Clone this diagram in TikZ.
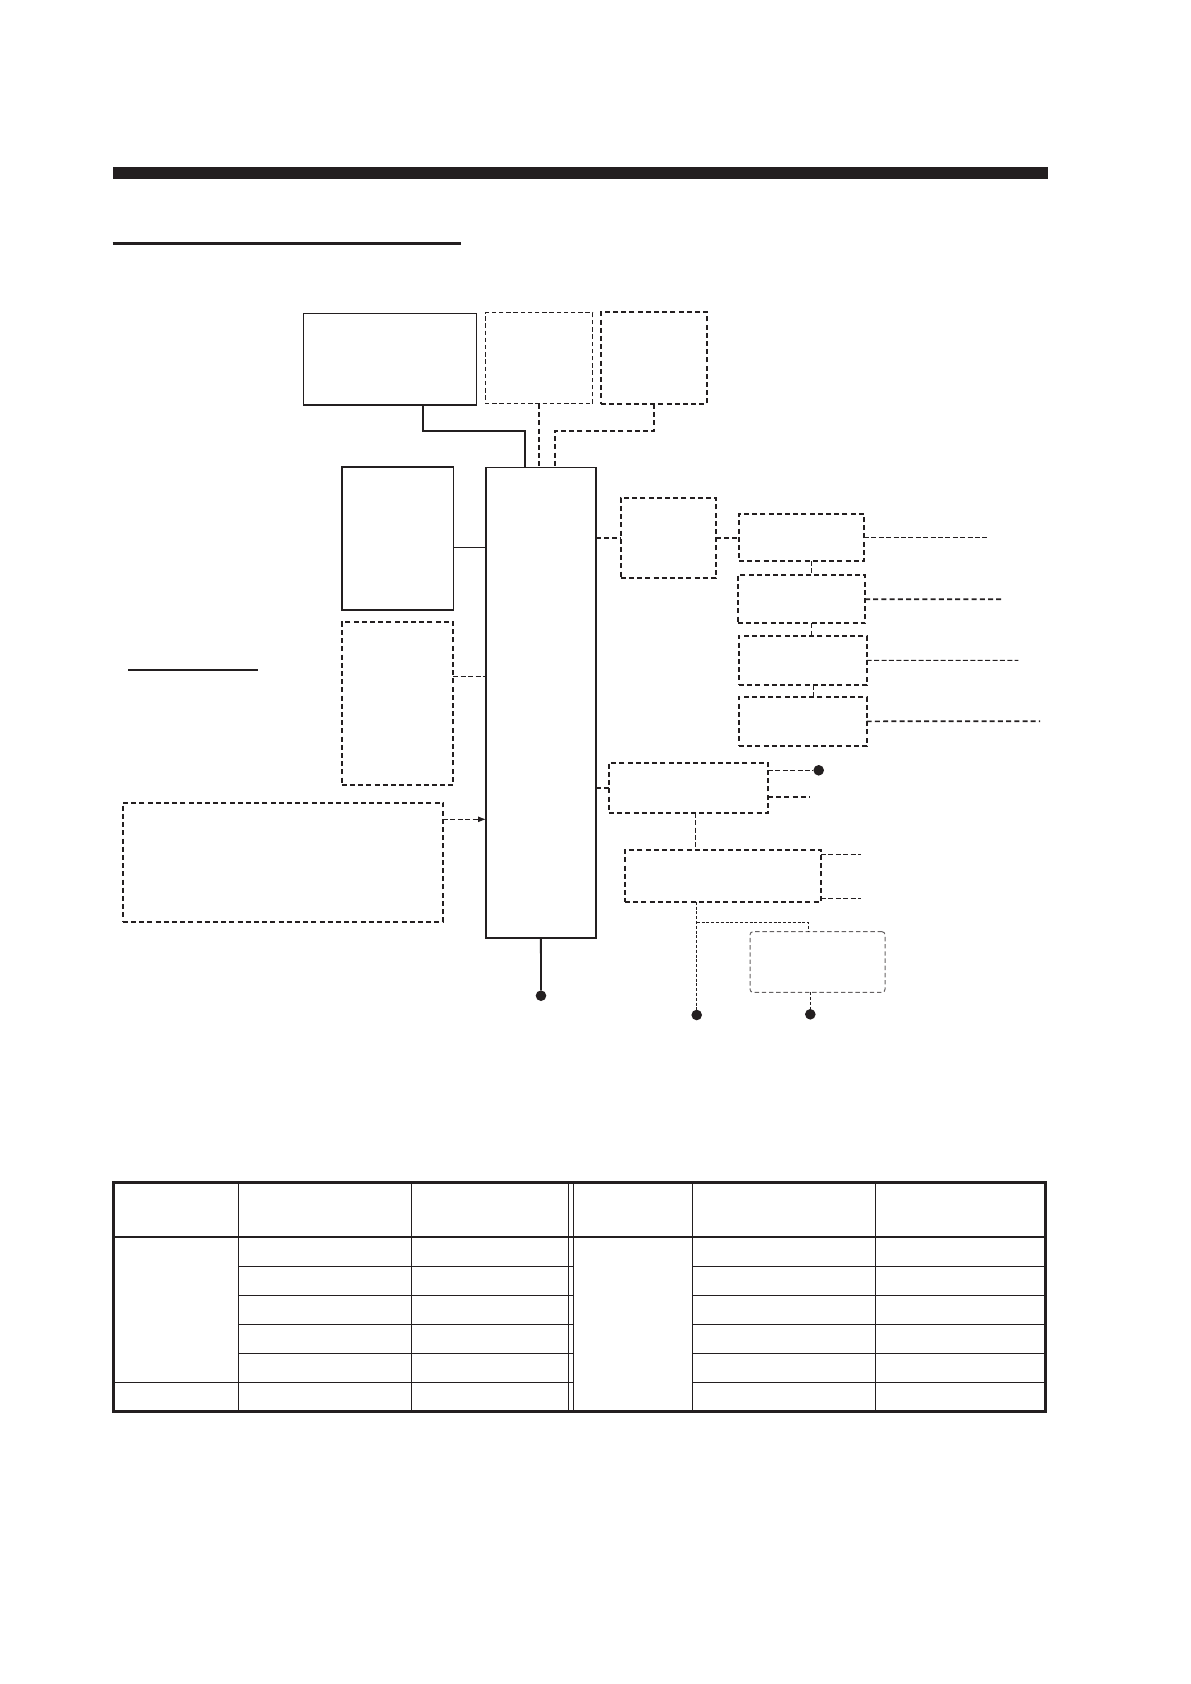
\documentclass[tikz,border=0pt]{standalone}
\usetikzlibrary{arrows.meta, positioning, fit}
\definecolor{ink}{RGB}{35,31,32}

\begin{document}
\begin{tikzpicture}[
        x=0.5pt, y=-0.5pt, >={Latex[length=4pt,width=3pt]},
        every node/.style={inner sep=0pt, outer sep=0pt},
        box/.style={draw=ink, line width=0.75pt},
        dbox/.style={draw=ink, line width=0.85pt, dash pattern=on 2.5pt off 1.6pt},
        lbox/.style={draw=ink, line width=0.5pt, dash pattern=on 2.2pt off 1.4pt},
        wire/.style={draw=ink, line width=0.9pt},
        dwire/.style={draw=ink, line width=0.85pt, dash pattern=on 2.5pt off 1.6pt},
        lwire/.style={draw=ink, line width=0.45pt, dash pattern=on 2.5pt off 1.2pt},
        twire/.style={draw=ink, line width=0.4pt, dash pattern=on 1.5pt off 0.9pt},
        grid/.style={draw=ink, line width=0.6pt},
        dot/.style={circle, fill=ink, minimum size=5.3pt}
        ]
        \useasboundingbox (0,0) rectangle (1190,1684);

        % heading rules
        \fill[ink] (112.7,166.7) rectangle (1047.7,179);
        \draw[ink, line width=1.5pt] (112.7,243.5) -- (461,243.5);
        \draw[ink, line width=1pt] (128.3,670) -- (257.7,670);

        % units
        \node[box, fit={(303.3,313.3) (476.7,405)}]              (disp)   {};
        \node[lbox, fit={(485,313) (592.7,404)}]                 (opt_1)  {};
        \node[dbox, fit={(601,312) (707,404)}]                   (opt_2)  {};
        \node[box, line width=0.8pt, fit={(486,467.3) (595.7,937.7)}] (proc) {};
        \node[box, line width=0.8pt, fit={(341.7,467) (453.3,610)}]   (key)  {};
        \node[dbox, fit={(341.7,622.3) (453.3,785)}]             (rem)    {};
        \node[dbox, fit={(122.7,802.7) (443,921.7)}]             (ext)    {};
        \node[dbox, fit={(620.7,497.7) (715.7,578.3)}]           (sw)     {};
        \node[dbox, fit={(739,514) (864,561)}]                   (unit_1) {};
        \node[dbox, fit={(737.7,575) (865,623.3)}]               (unit_2) {};
        \node[dbox, fit={(739,635.7) (866.7,685)}]               (unit_3) {};
        \node[dbox, fit={(739,696.7) (866.7,746)}]               (unit_4) {};
        \node[dbox, fit={(609,762.7) (768,812.7)}]               (jb)     {};
        \node[dbox, fit={(625,850) (821,901.7)}]                 (term)   {};
        \node[lbox, draw=ink!70, rounded corners=1.5pt, fit={(750,931.7) (885,992.3)}] (aux) {};

        % terminals
        \node[dot] (dot_1) at (541,995.7)    {};
        \node[dot] (dot_2) at (818.7,770.3)  {};
        \node[dot] (dot_3) at (696.7,1015)   {};
        \node[dot] (dot_4) at (810.3,1014.3) {};

        \coordinate (end_1) at (989,537.5);
        \coordinate (end_2) at (1001.7,599.2);
        \coordinate (end_3) at (1018.3,660.3);
        \coordinate (end_4) at (1040,721.3);
        \coordinate (end_5) at (809.3,796.7);
        \coordinate (end_6) at (861,854);
        \coordinate (end_7) at (861,898.3);
        \coordinate (bend_1) at (422.7,430.7);
        \coordinate (bend_2) at (525,430.7);
        \coordinate (bend_3) at (555,430.7);
        \coordinate (bend_4) at (696.7,922.3);
        \coordinate (bend_5) at (808.3,922.3);

        % connections
        \draw[wire] (disp.south -| bend_1) -- (bend_1) -- (bend_2) -- (bend_2 |- proc.north);
        \draw[dwire] (opt_1.south) -- (opt_1.south |- proc.north);
        \draw[dwire] (opt_2.south) |- (bend_3) -- (bend_3 |- proc.north);
        \draw[wire, line width=0.5pt] ([yshift=-4.25pt]key.east) -- ([yshift=-4.25pt]key.east -| proc.west);
        \draw[lwire] ([yshift=13.5pt]rem.east) -- ([yshift=13.5pt]rem.east -| proc.west);
        \draw[lwire, ->] ([yshift=21.45pt]ext.east) -- ([yshift=21.45pt]ext.east -| proc.west);
        \draw[dwire] (sw.west -| proc.east) -- (sw.west);
        \draw[dwire] (sw.east) -- (sw.east -| unit_1.west);
        \foreach \a/\b in {1/2, 2/3, 3/4}
          \draw[lwire] ([xshift=5.1pt]unit_\a.south) -- ([xshift=5.1pt]unit_\a.south |- unit_\b.north);
        \draw[lwire] (unit_1.east) -- (end_1);
        \draw[dwire] (unit_2.east) -- (end_2);
        \draw[lwire] (unit_3.east) -- (end_3);
        \draw[dwire] (unit_4.east) -- (end_4);
        \draw[dwire] (jb.west -| proc.east) -- (jb.west);
        \draw[lwire] (jb.east |- dot_2) -- (dot_2);
        \draw[dwire] (jb.east |- end_5) -- (end_5);
        \draw[lwire] ([xshift=3.6pt]jb.south) -- ([xshift=3.6pt]jb.south |- term.north);
        \draw[lwire] (term.east |- end_6) -- (end_6);
        \draw[lwire] (term.east |- end_7) -- (end_7);
        \draw[twire] (dot_3 |- term.south) -- (dot_3);
        \draw[twire] (bend_4) -- (bend_5) -- (bend_5 |- aux.north);
        \draw[twire] (aux.south -| dot_4) -- (dot_4);
        \draw[wire] (proc.south) -- (dot_1);

        % table
        \draw[ink, line width=1.5pt] (113.7,1182.7) rectangle (1045.4,1411);
        \draw[ink, line width=0.9pt] (113.7,1237.3) -- (1045.4,1237.3);
        \foreach \x in {238.7, 411.2, 692.4, 875.7}
          \draw[ink, line width=0.5pt] (\x,1182.7) -- (\x,1411);
        \foreach \x in {568.7, 573.4}
          \draw[ink, line width=0.4pt] (\x,1182.7) -- (\x,1411);
        \foreach \y in {1266.3, 1295.3, 1324.3, 1353.3} {
          \draw[grid] (238.7,\y) -- (573.4,\y);
          \draw[grid] (692.4,\y) -- (1045.4,\y);
        }
        \draw[grid] (113.7,1382.3) -- (573.4,1382.3);
        \draw[grid] (692.4,1382.3) -- (1045.4,1382.3);
\end{tikzpicture}
\end{document}
